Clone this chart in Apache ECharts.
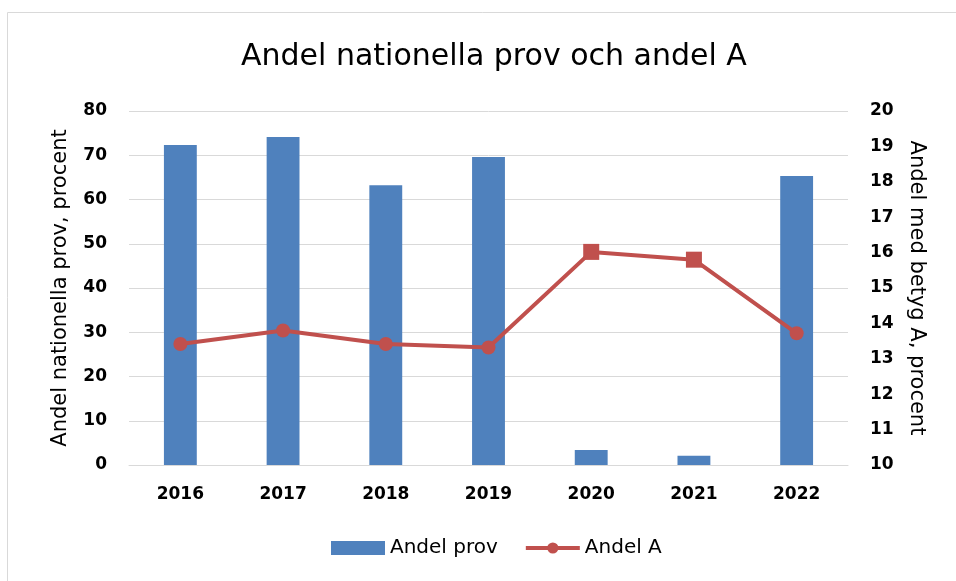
<!DOCTYPE html>
<html><head><meta charset="utf-8">
<script src="https://cdn.jsdelivr.net/npm/echarts@6/dist/echarts.min.js"></script>
<style>html,body{margin:0;padding:0;background:#fff}#c{width:956px;height:581px}</style>
</head><body><div id="c"></div>
<script>
const years = ['2016','2017','2018','2019','2020','2021','2022'];
const andelProv = [72.3, 74.1, 63.2, 69.6, 3.4, 2.1, 65.3];
const andelA = [13.42, 13.8, 13.42, 13.32, 16.02, 15.8, 13.72];
const leftTicks = {min:0, max:80, interval:10};
const rightTicks = {min:10, max:20, interval:1};
const squareYears = ['2020','2021'];

const FONT = 'DejaVu Sans';
const chart = echarts.init(document.getElementById('c'), null, {renderer:'canvas'});
chart.setOption({
  animation:false,
  textStyle:{fontFamily:FONT},
  graphic:[{type:'rect', shape:{x:7.5,y:12.5,width:1000,height:1000}, style:{fill:'none', stroke:'#d9d9d9', lineWidth:1}, z:-1}],
  title:{text:'Andel nationella prov och andel A', left:236, top:37,
    textStyle:{fontFamily:FONT, fontWeight:'normal', fontSize:30, color:'#000'}},
  grid:{left:129, right:108, top:111, bottom:116},
  legend:{bottom:18, left:326, itemGap:26, itemWidth:54, itemHeight:14,
    textStyle:{fontFamily:FONT, fontSize:20, color:'#000'},
    data:[{name:'Andel prov', icon:'rect'}, {name:'Andel A', lineStyle:{width:4}}]},
  xAxis:{type:'category', data:years,
    axisLine:{lineStyle:{color:'#d9d9d9', width:1}}, axisTick:{show:false},
    axisLabel:{fontFamily:FONT, fontWeight:'bold', fontSize:17, color:'#000', margin:21}},
  yAxis:[
    {type:'value', min:leftTicks.min, max:leftTicks.max, interval:leftTicks.interval,
     name:'Andel nationella prov, procent', nameLocation:'middle', nameGap:58, nameRotate:90,
     nameTextStyle:{fontFamily:FONT, fontSize:21, color:'#000'},
     axisLabel:{fontFamily:FONT, fontWeight:'bold', fontSize:17, color:'#000', margin:22},
     splitLine:{lineStyle:{color:'#d9d9d9', width:1}}, axisLine:{show:false}, axisTick:{show:false}},
    {type:'value', min:rightTicks.min, max:rightTicks.max, interval:rightTicks.interval, position:'right',
     name:'Andel med betyg A, procent', nameLocation:'middle', nameGap:58, nameRotate:-90,
     nameTextStyle:{fontFamily:FONT, fontSize:21, color:'#000'},
     axisLabel:{fontFamily:FONT, fontWeight:'bold', fontSize:17, color:'#000', margin:22},
     splitLine:{show:false}, axisLine:{show:false}, axisTick:{show:false}}
  ],
  series:[
    {name:'Andel prov', type:'bar', data:andelProv, barWidth:'32%', yAxisIndex:0,
     itemStyle:{color:'#4f81bd'}},
    {name:'Andel A', type:'line', yAxisIndex:1, symbol:'circle', symbolSize:14,
     data: andelA.map((v,i)=> squareYears.includes(years[i]) ? {value:v, symbol:'rect', symbolSize:16} : v),
     lineStyle:{color:'#c0504d', width:4}, itemStyle:{color:'#c0504d'}, z:3}
  ]
});
</script></body></html>
